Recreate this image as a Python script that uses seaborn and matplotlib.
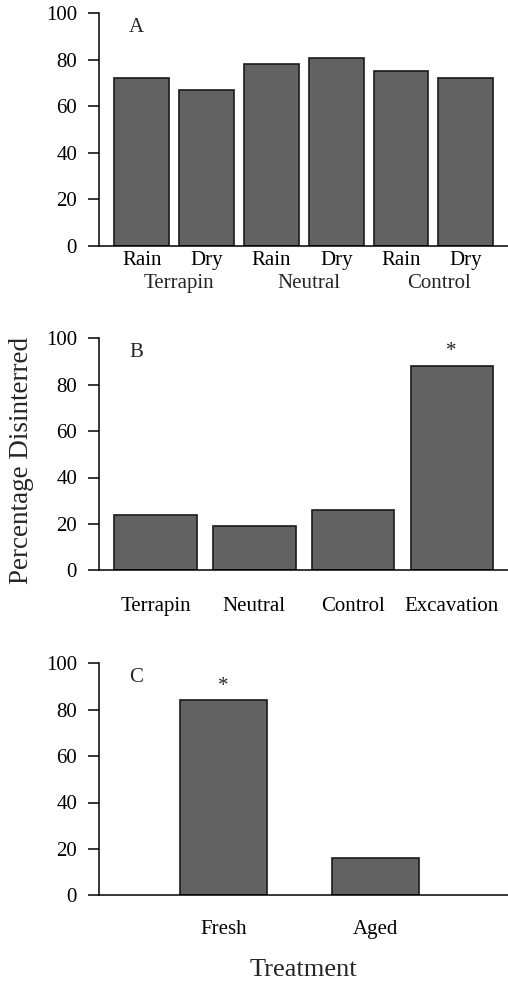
import matplotlib
matplotlib.use("Agg")
import matplotlib.pyplot as plt
import matplotlib.transforms as mtransforms
import seaborn as sns
import pandas as pd

# ---- data ----
a_treatments = ["Terrapin", "Terrapin", "Neutral", "Neutral", "Control", "Control"]
a_weather = ["Rain", "Dry", "Rain", "Dry", "Rain", "Dry"]
a_values = [72, 67, 78, 81, 75, 72]

b_categories = ["Terrapin", "Neutral", "Control", "Excavation"]
b_values = [24, 19, 26, 88]
b_signif = [False, False, False, True]

c_categories = ["Fresh", "Aged"]
c_values = [84, 16]
c_signif = [True, False]

yticks = [0, 20, 40, 60, 80, 100]
ylabel = "Percentage Disinterred"
xlabel = "Treatment"
panel_letters = ["A", "B", "C"]

# ---- style ----
sns.set_theme(style="ticks")
plt.rcParams["font.family"] = ["Liberation Serif", "DejaVu Serif"]
plt.rcParams["axes.linewidth"] = 1.1

BAR = "#626262"
EDGE = "#1a1a1a"
FS = 15

fig = plt.figure(figsize=(5.08, 9.82), dpi=100)
W, H = 508, 982
def rect(top, bottom, left=99.3, right=508):
    return [left / W, 1 - bottom / H, (right - left) / W, (bottom - top) / H]

axA = fig.add_axes(rect(13.3, 246))
axB = fig.add_axes(rect(338.3, 570.3))
axC = fig.add_axes(rect(663.3, 895.3))

def style(ax, xlim, xpad):
    ax.set_ylim(0, 100)
    ax.set_xlim(*xlim)
    ax.set_yticks(yticks)
    ax.set_yticklabels([str(t) for t in yticks], fontsize=FS)
    sns.despine(ax=ax)
    ax.spines["left"].set_color("black")
    ax.spines["bottom"].set_color("black")
    ax.tick_params(axis="y", length=8, width=1.1, pad=8, colors="black", direction="out")
    ax.tick_params(axis="x", length=0, pad=xpad, labelsize=FS, colors="black")
    ax.set_xlabel("")
    ax.set_ylabel("")

# Panel A
dfA = pd.DataFrame({"key": [f"{t} {w}" for t, w in zip(a_treatments, a_weather)],
                    "value": a_values})
sns.barplot(data=dfA, x="key", y="value", ax=axA, color=BAR, edgecolor=EDGE,
            linewidth=1.2, width=0.845, saturation=1)
style(axA, (-0.655, 5.65), 3.5)
axA.set_xticks(range(len(a_weather)))
axA.set_xticklabels(a_weather)
trA = mtransforms.blended_transform_factory(axA.transData, axA.transAxes)
groups = list(dict.fromkeys(a_treatments))
for g in groups:
    idx = [i for i, t in enumerate(a_treatments) if t == g]
    cx = sum(idx) / len(idx) + 0.08
    axA.text(cx, -0.16, g, transform=trA, ha="center", va="center", fontsize=FS)

# Panel B
dfB = pd.DataFrame({"cat": b_categories, "value": b_values})
sns.barplot(data=dfB, x="cat", y="value", ax=axB, color=BAR, edgecolor=EDGE,
            linewidth=1.2, width=0.835, saturation=1)
style(axB, (-0.57, 3.57), 19.5)
for i, (v, s) in enumerate(zip(b_values, b_signif)):
    if s:
        axB.text(i, v + 6.5, "*", ha="center", va="center", fontsize=FS)

# Panel C
dfC = pd.DataFrame({"cat": c_categories, "value": c_values})
sns.barplot(data=dfC, x="cat", y="value", ax=axC, color=BAR, edgecolor=EDGE,
            linewidth=1.2, width=0.57, saturation=1)
style(axC, (-0.82, 1.874), 18)
for i, (v, s) in enumerate(zip(c_values, c_signif)):
    if s:
        axC.text(i, v + 6, "*", ha="center", va="center", fontsize=FS)

for ax, letter in zip([axA, axB, axC], panel_letters):
    ax.text(0.09, 0.94, letter, transform=ax.transAxes, ha="center", va="center", fontsize=FS)

fig.text(22 / W, 1 - 460 / H, ylabel, rotation=90, ha="center", va="center", fontsize=19.5)
fig.text(303 / W, 1 - 970 / H, xlabel, ha="center", va="center", fontsize=19)

fig.savefig("out.png", dpi=100)
